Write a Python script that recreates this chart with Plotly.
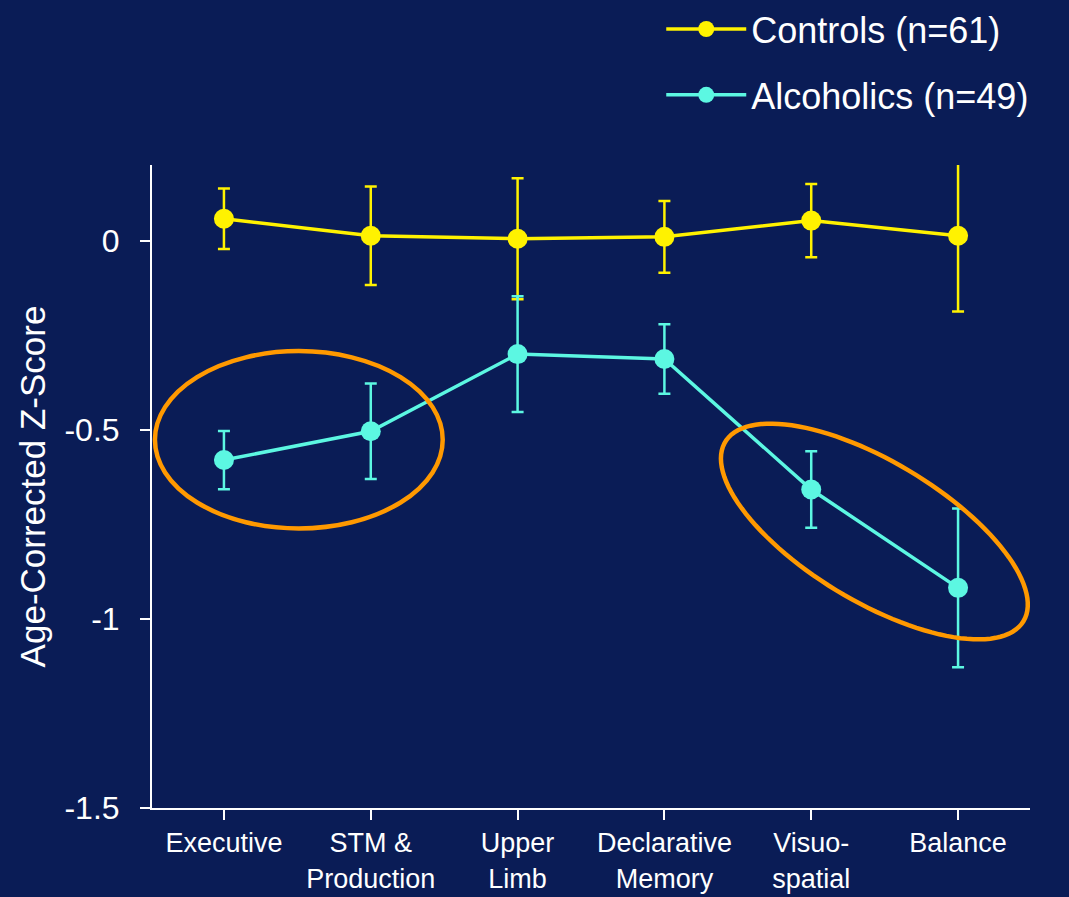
import numpy as np
import plotly.graph_objects as go

# ---- data ----
categories = ["Executive", "STM &<br>Production", "Upper<br>Limb",
              "Declarative<br>Memory", "Visuo-<br>spatial", "Balance"]
controls_mean = [0.058, 0.013, 0.005, 0.010, 0.053, 0.013]
controls_err = [0.080, 0.130, 0.160, 0.095, 0.097, 0.200]
alcoholics_mean = [-0.580, -0.504, -0.300, -0.313, -0.658, -0.918]
alcoholics_err = [0.077, 0.126, 0.153, 0.092, 0.101, 0.210]
y_tickvals = [0, -0.5, -1, -1.5]
y_ticktext = ["0", "-0.5", "-1", "-1.5"]

# ---- style ----
BG = "#0A1C56"
YEL = "#FFF200"
CYAN = "#5CF7E2"
ORANGE = "#FF9900"
FONT = "Liberation Sans, Arial, sans-serif"

W, H = 1069, 897
ML, MR, MT, MB = 152, 39, 165, 89
XR = [-0.49, 5.49]
YR = [-1.5, 0.2]
xs = (W - ML - MR) / (XR[1] - XR[0])   # px per x unit
ys = (H - MT - MB) / (YR[1] - YR[0])   # px per y unit

x = list(range(len(categories)))

fig = go.Figure()
fig.add_trace(go.Scatter(
    x=x, y=controls_mean, name="Controls (n=61)", mode="lines+markers",
    line=dict(color=YEL, width=3.5), marker=dict(color=YEL, size=20),
    error_y=dict(type="data", array=controls_err, color=YEL, thickness=2.5, width=6),
    legendgroup="c"))
fig.add_trace(go.Scatter(
    x=x, y=alcoholics_mean, name="Alcoholics (n=49)", mode="lines+markers",
    line=dict(color=CYAN, width=3.5), marker=dict(color=CYAN, size=20),
    error_y=dict(type="data", array=alcoholics_err, color=CYAN, thickness=2.5, width=6),
    legendgroup="a"))

# highlight ellipses (annotations)
shapes = [dict(type="circle", xref="x", yref="y", x0=-0.47, x1=1.49, y0=-0.761, y1=-0.292,
               line=dict(color=ORANGE, width=4.5), layer="above")]

# rotated ellipse: centre in data units, semi-axes in px
cx, cy = 4.43, -0.769
a_px, b_px, ang = 174, 70, np.deg2rad(31)
t = np.linspace(0, 2 * np.pi, 120)
dxp = a_px * np.cos(t) * np.cos(ang) - b_px * np.sin(t) * np.sin(ang)
dyp = a_px * np.cos(t) * np.sin(ang) + b_px * np.sin(t) * np.cos(ang)
ex = cx + dxp / xs
ey = cy - dyp / ys
path = "M " + " L ".join(f"{u:.4f},{v:.4f}" for u, v in zip(ex, ey)) + " Z"
shapes.append(dict(type="path", xref="x", yref="y", path=path,
                   line=dict(color=ORANGE, width=4.5), layer="above"))

fig.update_layout(
    width=W, height=H,
    margin=dict(l=ML, r=MR, t=MT, b=MB, autoexpand=False),
    paper_bgcolor=BG, plot_bgcolor=BG,
    font=dict(family=FONT, color="white", size=30),
    shapes=shapes,
    showlegend=True,
    legend=dict(x=0.58, y=1.258, xanchor="left", yanchor="top",
                font=dict(size=36, color="white", family=FONT),
                itemwidth=80,
                bgcolor="rgba(0,0,0,0)", tracegroupgap=16),
    xaxis=dict(range=XR, tickmode="array", tickvals=x, ticktext=categories,
               automargin=False,
               showline=True, linecolor="white", linewidth=2, showgrid=False, zeroline=False,
               ticks="outside", ticklen=10, tickwidth=2, tickcolor="white",
               ticklabelstandoff=0,
               tickfont=dict(size=27, color="white", family=FONT)),
    yaxis=dict(range=YR, tickmode="array", tickvals=y_tickvals, ticktext=y_ticktext,
               automargin=False,
               showline=True, linecolor="white", linewidth=2, showgrid=False, zeroline=False,
               ticks="outside", ticklen=10, tickwidth=2, tickcolor="white",
               ticklabelstandoff=14,
               tickfont=dict(size=32, color="white", family=FONT),
               title=dict(text="Age-Corrected Z-Score", font=dict(size=35, color="white", family=FONT),
                          standoff=8)),
)

fig.write_html("out.html", config={"displayModeBar": False},
               post_script="document.body.style.margin='0';document.body.style.overflow='hidden';")
